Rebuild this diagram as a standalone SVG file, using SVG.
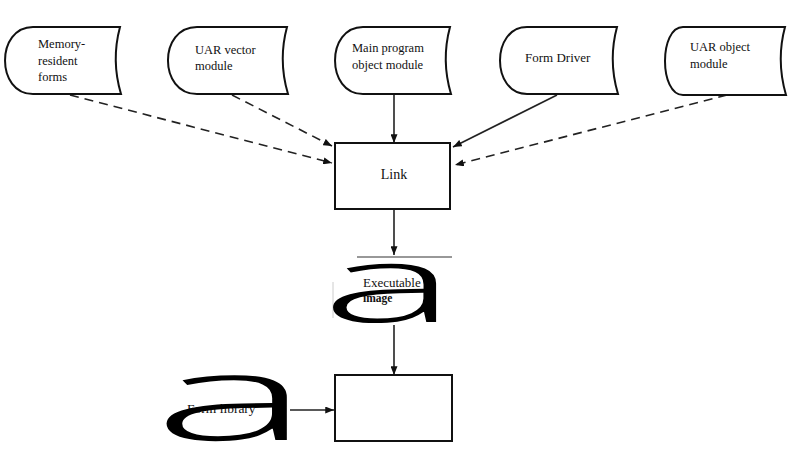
<svg xmlns="http://www.w3.org/2000/svg" width="790" height="461" viewBox="0 0 790 461">
<style>
.shape{fill:#fff;stroke:#111;stroke-width:2}
.t{font-family:"Liberation Serif","Times New Roman",serif;font-size:12.5px;fill:#111}
.c{stroke:#222;stroke-width:1.6;fill:none}
.d{stroke-dasharray:9 6}
.big{font-family:"Open Sans","Liberation Sans",Arial,sans-serif;font-weight:300;fill:#000}
</style>
<defs>
<marker id="ah" viewBox="0 0 10 8" refX="10" refY="4" markerWidth="9" markerHeight="7" markerUnits="userSpaceOnUse" orient="auto">
<path d="M0,0 L10,4 L0,8 Z" fill="#111"/>
</marker>
</defs>
<rect width="790" height="461" fill="#fff"/>
<g id="connectors">
<path class="c d" d="M70,95 L332,163" marker-end="url(#ah)"/>
<path class="c d" d="M232,95 L332,146" marker-end="url(#ah)"/>
<path class="c" d="M394,95 L394,143" marker-end="url(#ah)"/>
<path class="c" d="M557,95 L453,147" marker-end="url(#ah)"/>
<path class="c d" d="M727,95 L455,165" marker-end="url(#ah)"/>
<path class="c" d="M394,209 L394,255" marker-end="url(#ah)"/>
<path class="c" d="M394,325 L394,375" marker-end="url(#ah)"/>
<path class="c" d="M290,410 L334,410" marker-end="url(#ah)"/>
</g>
<g id="n1">
<path class="shape" d="M33,27 L120,27 Q111,60.5 121,94 L33,94 C-4.3,94 -4.3,27 33,27 Z"/>
<text class="t" x="38" y="48">Memory-</text>
<text class="t" x="38" y="65">resident</text>
<text class="t" x="38" y="81">forms</text>
</g>
<g id="n2">
<path class="shape" d="M197,27 L287,27 Q278,60.5 288,94 L197,94 C158.3,94 158.3,27 197,27 Z"/>
<text class="t" x="195" y="54">UAR  vector</text>
<text class="t" x="195" y="70">module</text>
</g>
<g id="n3">
<path class="shape" d="M363,27 L450,27 Q441,60.5 451,94 L363,94 C325.7,94 325.7,27 363,27 Z"/>
<text class="t" x="352" y="52">Main program</text>
<text class="t" x="352" y="69">object module</text>
</g>
<g id="n4">
<path class="shape" d="M527,27 L617,27 Q608,60.5 618,94 L527,94 C491,94 491,27 527,27 Z"/>
<text class="t" x="525" y="62" style="font-size:13px">Form Driver</text>
</g>
<g id="n5">
<path class="shape" d="M683,27 L785,27 Q776,60.5 786,95 L683,95 C659,95 659,27 683,27 Z"/>
<text class="t" x="690" y="51">UAR object</text>
<text class="t" x="690" y="68">module</text>
</g>
<g id="link">
<rect class="shape" x="335" y="143" width="115" height="66"/>
<text class="t" x="394" y="179" text-anchor="middle" style="font-size:14px">Link</text>
</g>
<g id="exe">
<line x1="357" y1="257" x2="452" y2="257" stroke="#333" stroke-width="1.2"/>
<line x1="333" y1="282" x2="333" y2="318" stroke="#ccc" stroke-width="1"/>
<text class="t" x="363" y="287" style="font-size:13px">Executable</text>
<text class="t" x="363" y="302" style="font-size:11.5px;font-weight:bold">image</text>
<text class="big" transform="translate(321,322) scale(2.38,1)" style="font-size:108px">a</text>
</g>
<g id="lib">
<text class="t" x="187" y="413" style="font-size:13.5px">Form library</text>
<text class="big" transform="translate(152.5,440) scale(2.5,1)" style="font-size:120px">a</text>
</g>
<g id="box">
<rect class="shape" x="335" y="375" width="117" height="66"/>
</g>
</svg>
